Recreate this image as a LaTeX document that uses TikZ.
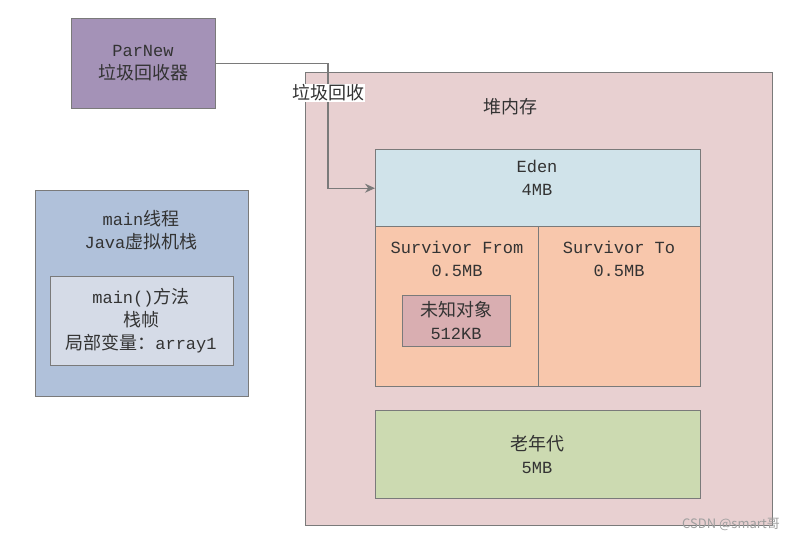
\documentclass[tikz,border=0pt]{standalone}
\usepackage{fontspec}
\setmainfont{Liberation Mono}
\newfontfamily\cjk{Noto Sans CJK SC}
\usetikzlibrary{arrows.meta}
\definecolor{edgegray}{HTML}{7A7A7A}
\definecolor{textgray}{HTML}{333333}
\definecolor{parnewc}{HTML}{A492B7}
\definecolor{mainc}{HTML}{B0C1DA}
\definecolor{innerc}{HTML}{D5DBE7}
\definecolor{heapc}{HTML}{E8D0D1}
\definecolor{edenc}{HTML}{D0E3EA}
\definecolor{survc}{HTML}{F8C7AC}
\definecolor{unkc}{HTML}{D9AEB1}
\definecolor{oldc}{HTML}{CCDAB1}
\newcommand\zh[1]{{\cjk\fontsize{18}{23}\selectfont #1}}
\begin{document}
\begin{tikzpicture}[x=1pt,y=1pt,
  box/.style={draw=edgegray, line width=1.4pt, anchor=north west, inner sep=0pt},
  txt/.style={font=\fontsize{17}{23}\selectfont, align=center, inner sep=0pt, text=textgray},
  conn/.style={draw=edgegray, line width=1.3pt, -{Stealth[length=10pt,width=9pt]}}]
\useasboundingbox (0,0) rectangle (798,-541);
% boxes
\node[box, fill=parnewc, minimum width=144pt, minimum height=90pt] (parnew) at (71,-18) {};
\node[box, fill=mainc, minimum width=213pt, minimum height=206pt] (mainbox) at (35,-190) {};
\node[box, fill=innerc, minimum width=183pt, minimum height=89pt] (inner) at (50,-276) {};
\node[box, fill=heapc, minimum width=467pt, minimum height=453pt] (heap) at (305,-72) {};
\node[box, fill=edenc, minimum width=325pt, minimum height=77pt] (eden) at (375,-149) {};
\node[box, fill=survc, minimum width=163pt, minimum height=160pt] (sfrom) at (375,-226) {};
\node[box, fill=survc, minimum width=162pt, minimum height=160pt] (sto) at (538,-226) {};
\node[box, fill=unkc, minimum width=108pt, minimum height=51pt] (unk) at (402,-295) {};
\node[box, fill=oldc, minimum width=325pt, minimum height=88pt] (old) at (375,-410) {};
% texts
\node[txt] (parnewt) at (143,-63) {ParNew\\\zh{垃圾回收器}};
\node[txt] (maint) at (141,-230) {main\zh{线程}\\Java\zh{虚拟机栈}};
\node[txt] (innert) at (141,-321) {main()\zh{方法}\\\zh{栈帧}\\\zh{局部变量：}array1};
\node[txt] (heapt) at (510,-107) {\zh{堆内存}};
\node[txt] (edent) at (537,-178) {Eden\\4MB};
\node[txt] (sfromt) at (457,-259) {Survivor From\\0.5MB};
\node[txt] (stot) at (619,-259) {Survivor To\\0.5MB};
\node[txt] (unkt) at (456,-320) {\zh{未知对象}\\512KB};
\node[txt] (oldt) at (537,-454) {\zh{老年代}\\5MB};
% connector
\coordinate (bend) at (328,-63);
\draw[conn] (parnew.east) -- (parnew.east -| bend) |- (eden.west);
\node[txt, fill=white, inner sep=1pt] (gclabel) at (328,-93) {\zh{垃圾回收}};
% watermark
\node[inner sep=0pt, text=gray!75, font=\cjk\fontsize{13}{15}\selectfont] (wm) at (731,-524) {CSDN @smart哥};
\end{tikzpicture}
\end{document}
